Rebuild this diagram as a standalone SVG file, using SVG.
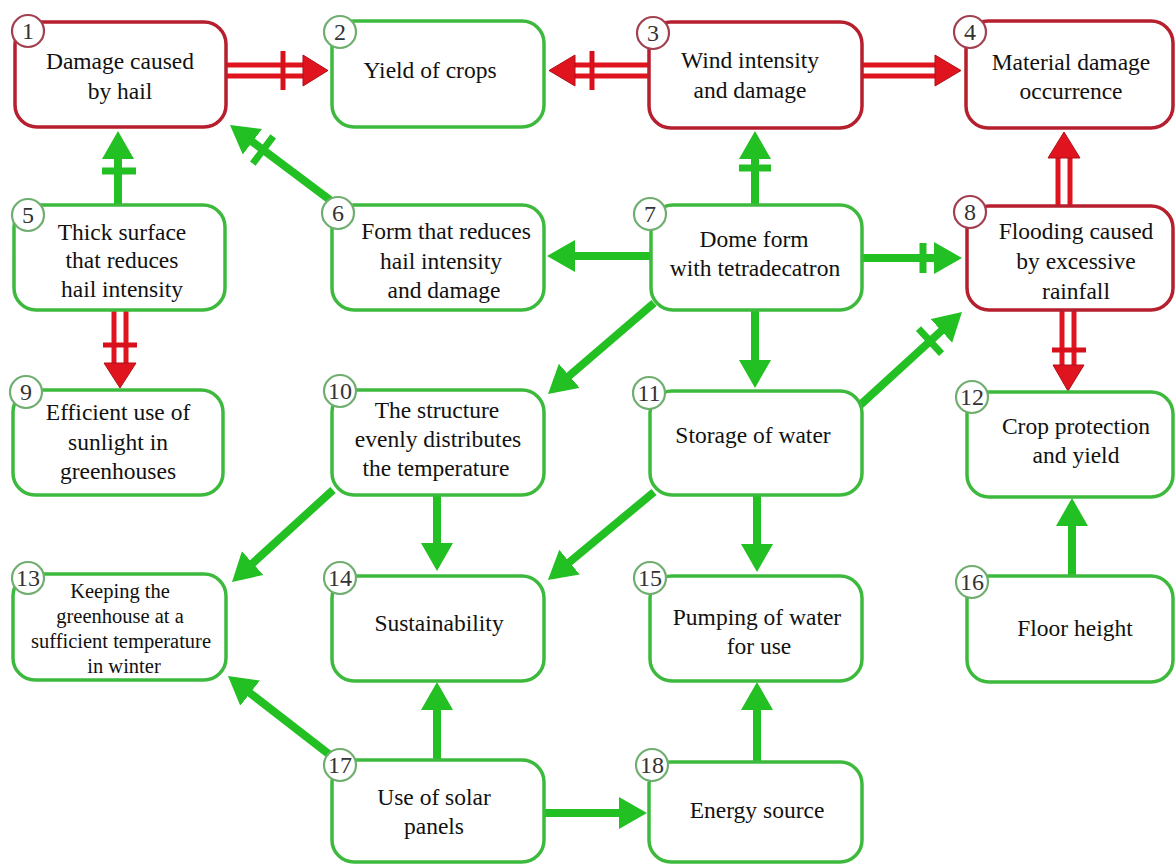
<svg xmlns="http://www.w3.org/2000/svg" width="1176" height="865" viewBox="0 0 1176 865">
<style>
.g{fill:#fff;stroke:#3dba3d;stroke-width:3.5}
.r{fill:#fff;stroke:#b51f2e;stroke-width:3.5}
.cg{fill:#fff;stroke:#6fae6f;stroke-width:2.2}
.cr{fill:#fff;stroke:#a24050;stroke-width:2.2}
.n{font-family:"Liberation Serif",serif;font-size:24px;fill:#333;text-anchor:middle}
.t{font-family:"Liberation Serif",serif;font-size:23.5px;fill:#111;text-anchor:middle}
.s{font-family:"Liberation Serif",serif;font-size:20.5px;fill:#111;text-anchor:middle}
.ga{stroke:#22c022;stroke-width:8;fill:none}
.tk{stroke:#22c022;stroke-width:7}
.rl{stroke:#e0141e;stroke-width:5}
.rt{stroke:#d8101c;stroke-width:5}
.rh{fill:#e0141e;stroke:#b01018;stroke-width:1}
</style>
<defs>
<marker id="ah" markerUnits="userSpaceOnUse" markerWidth="30" markerHeight="34" refX="10" refY="16" orient="auto">
<path d="M0,0 L28,16 L0,32 z" fill="#22c022"/>
</marker>
</defs>
<rect width="1176" height="865" fill="#fff"/>

<g id="connectors">
<!-- green arrows -->
<line class="ga" x1="118" y1="205" x2="118" y2="149" marker-end="url(#ah)"/>
<line class="tk" x1="102" y1="171" x2="136" y2="171"/>
<line class="ga" x1="330" y1="200" x2="244.4" y2="135.8" marker-end="url(#ah)"/>
<line class="tk" x1="252.8" y1="163.6" x2="273.2" y2="136.4"/>
<line class="ga" x1="755" y1="205" x2="755" y2="149" marker-end="url(#ah)"/>
<line class="tk" x1="739" y1="168" x2="771" y2="168"/>
<line class="ga" x1="650" y1="256" x2="565" y2="256" marker-end="url(#ah)"/>
<line class="ga" x1="862" y1="258" x2="944" y2="258" marker-end="url(#ah)"/>
<line class="tk" x1="923" y1="243" x2="923" y2="273"/>
<line class="ga" x1="654" y1="303" x2="561.7" y2="382.3" marker-end="url(#ah)"/>
<line class="ga" x1="755" y1="310" x2="755" y2="370" marker-end="url(#ah)"/>
<line class="ga" x1="858" y1="407" x2="948.7" y2="324.1" marker-end="url(#ah)"/>
<line class="tk" x1="918.5" y1="328.7" x2="941.5" y2="353.7"/>
<line class="ga" x1="333" y1="490" x2="245.3" y2="569.9" marker-end="url(#ah)"/>
<line class="ga" x1="437" y1="495" x2="437" y2="553" marker-end="url(#ah)"/>
<line class="ga" x1="654" y1="492" x2="561.8" y2="568.5" marker-end="url(#ah)"/>
<line class="ga" x1="757" y1="495" x2="757" y2="554" marker-end="url(#ah)"/>
<line class="ga" x1="1072" y1="575" x2="1072" y2="516" marker-end="url(#ah)"/>
<line class="ga" x1="330" y1="755" x2="242.2" y2="687" marker-end="url(#ah)"/>
<line class="ga" x1="437" y1="760" x2="437" y2="700" marker-end="url(#ah)"/>
<line class="ga" x1="544" y1="813" x2="629" y2="813" marker-end="url(#ah)"/>
<line class="ga" x1="757" y1="762" x2="757" y2="700" marker-end="url(#ah)"/>
<!-- red double arrows -->
<line class="rl" x1="227" y1="65" x2="306" y2="65"/>
<line class="rl" x1="227" y1="76" x2="306" y2="76"/>
<polygon class="rh" points="303,55 328,70.5 303,86"/>
<line class="rt" x1="283" y1="51" x2="283" y2="90"/>

<line class="rl" x1="648" y1="65" x2="572" y2="65"/>
<line class="rl" x1="648" y1="76" x2="572" y2="76"/>
<polygon class="rh" points="575,55 549,70.5 575,86"/>
<line class="rt" x1="592" y1="51" x2="592" y2="90"/>

<line class="rl" x1="862" y1="65" x2="938" y2="65"/>
<line class="rl" x1="862" y1="76" x2="938" y2="76"/>
<polygon class="rh" points="935,55 961,70.5 935,86"/>

<line class="rl" x1="1058" y1="205" x2="1058" y2="155"/>
<line class="rl" x1="1070" y1="205" x2="1070" y2="155"/>
<polygon class="rh" points="1048,158 1064,132 1080,158"/>

<line class="rl" x1="1062" y1="310" x2="1062" y2="368"/>
<line class="rl" x1="1074" y1="310" x2="1074" y2="368"/>
<polygon class="rh" points="1053,365 1068,391 1084,365"/>
<line class="rt" x1="1052" y1="350" x2="1086" y2="350"/>

<line class="rl" x1="114" y1="310" x2="114" y2="366"/>
<line class="rl" x1="126" y1="310" x2="126" y2="366"/>
<polygon class="rh" points="104,363 120,388 136,363"/>
<line class="rt" x1="103" y1="345" x2="137" y2="345"/>
</g>

<g id="node1"><rect class="r" x="15" y="22" width="211" height="105" rx="22"/><circle class="cr" cx="28" cy="31" r="16"/><text class="n" x="28" y="39">1</text><text class="t" x="120" y="69">Damage caused</text><text class="t" x="120" y="99">by hail</text></g>
<g id="node2"><rect class="g" x="332" y="21" width="212" height="106" rx="22"/><circle class="cg" cx="340" cy="32" r="16"/><text class="n" x="340" y="40">2</text><text class="t" x="430" y="78">Yield of crops</text></g>
<g id="node3"><rect class="r" x="649" y="22" width="213" height="106" rx="22"/><circle class="cr" cx="653" cy="33" r="16"/><text class="n" x="653" y="41">3</text><text class="t" x="750" y="68">Wind intensity</text><text class="t" x="750" y="98">and damage</text></g>
<g id="node4"><rect class="r" x="966" y="21" width="207" height="107" rx="22"/><circle class="cr" cx="970" cy="32" r="16"/><text class="n" x="970" y="40">4</text><text class="t" x="1071" y="70">Material damage</text><text class="t" x="1071" y="99">occurrence</text></g>
<g id="node5"><rect class="g" x="14" y="205" width="211" height="105" rx="22"/><circle class="cg" cx="28" cy="215" r="16"/><text class="n" x="28" y="223">5</text><text class="t" x="122" y="240">Thick surface</text><text class="t" x="122" y="268">that reduces</text><text class="t" x="122" y="297">hail intensity</text></g>
<g id="node6"><rect class="g" x="332" y="205" width="212" height="105" rx="22"/><circle class="cg" cx="338" cy="213" r="16"/><text class="n" x="338" y="221">6</text><text class="t" x="446" y="239">Form that reduces</text><text class="t" x="441" y="269">hail intensity</text><text class="t" x="444" y="298">and damage</text></g>
<g id="node7"><rect class="g" x="651" y="205" width="211" height="105" rx="22"/><circle class="cg" cx="650" cy="214" r="16"/><text class="n" x="650" y="222">7</text><text class="t" x="754" y="247">Dome form</text><text class="t" x="755" y="276">with tetradecatron</text></g>
<g id="node8"><rect class="r" x="967" y="206" width="206" height="104" rx="22"/><circle class="cr" cx="970" cy="212" r="16"/><text class="n" x="970" y="220">8</text><text class="t" x="1076" y="239">Flooding caused</text><text class="t" x="1076" y="269">by excessive</text><text class="t" x="1076" y="299">rainfall</text></g>
<g id="node9"><rect class="g" x="13" y="390" width="210" height="105" rx="22"/><circle class="cg" cx="26" cy="392" r="16"/><text class="n" x="26" y="400">9</text><text class="t" x="118" y="420">Efficient use of</text><text class="t" x="118" y="450">sunlight in</text><text class="t" x="118" y="479">greenhouses</text></g>
<g id="node10"><rect class="g" x="332" y="390" width="212" height="105" rx="22"/><circle class="cg" cx="340" cy="391" r="16"/><text class="n" x="340" y="399">10</text><text class="t" x="437" y="418">The structure</text><text class="t" x="438" y="447">evenly distributes</text><text class="t" x="436" y="476">the temperature</text></g>
<g id="node11"><rect class="g" x="650" y="391" width="212" height="104" rx="22"/><circle class="cg" cx="649" cy="393" r="16"/><text class="n" x="649" y="401">11</text><text class="t" x="753" y="443">Storage of water</text></g>
<g id="node12"><rect class="g" x="967" y="392" width="206" height="105" rx="22"/><circle class="cg" cx="972" cy="397" r="16"/><text class="n" x="972" y="405">12</text><text class="t" x="1076" y="434">Crop protection</text><text class="t" x="1076" y="463">and yield</text></g>
<g id="node13"><rect class="g" x="13" y="574" width="213" height="106" rx="22"/><circle class="cg" cx="28" cy="578" r="16"/><text class="n" x="28" y="586">13</text><text class="s" x="120" y="598">Keeping the</text><text class="s" x="120" y="623">greenhouse at a</text><text class="s" x="121" y="648">sufficient temperature</text><text class="s" x="124" y="673">in winter</text></g>
<g id="node14"><rect class="g" x="332" y="576" width="212" height="105" rx="22"/><circle class="cg" cx="340" cy="578" r="16"/><text class="n" x="340" y="586">14</text><text class="t" x="439" y="631">Sustainability</text></g>
<g id="node15"><rect class="g" x="650" y="576" width="212" height="105" rx="22"/><circle class="cg" cx="650" cy="578" r="16"/><text class="n" x="650" y="586">15</text><text class="t" x="757" y="625">Pumping of water</text><text class="t" x="759" y="654">for use</text></g>
<g id="node16"><rect class="g" x="967" y="576" width="206" height="106" rx="22"/><circle class="cg" cx="972" cy="582" r="16"/><text class="n" x="972" y="590">16</text><text class="t" x="1075" y="636">Floor height</text></g>
<g id="node17"><rect class="g" x="332" y="760" width="212" height="102" rx="22"/><circle class="cg" cx="340" cy="765" r="16"/><text class="n" x="340" y="773">17</text><text class="t" x="434" y="805">Use of solar</text><text class="t" x="434" y="834">panels</text></g>
<g id="node18"><rect class="g" x="649" y="762" width="213" height="100" rx="22"/><circle class="cg" cx="652" cy="765" r="16"/><text class="n" x="652" y="773">18</text><text class="t" x="757" y="818">Energy source</text></g>
</svg>
